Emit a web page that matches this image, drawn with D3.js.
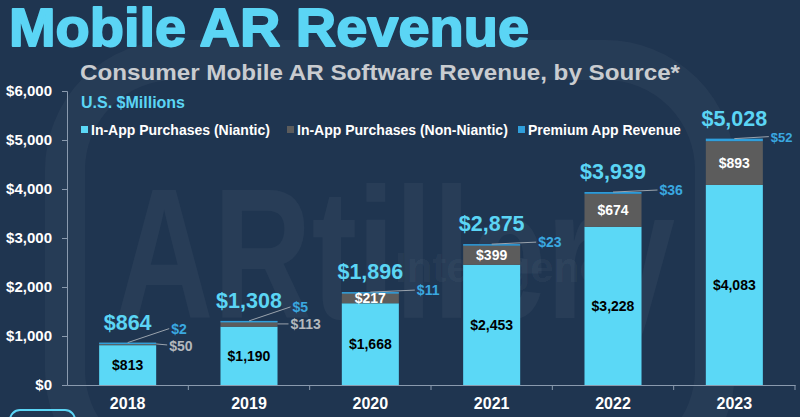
<!DOCTYPE html>
<html><head><meta charset="utf-8">
<script src="https://cdn.jsdelivr.net/npm/d3@7"></script>
<style>
html,body{margin:0;padding:0;background:#1f3550;}
svg{display:block;font-family:"Liberation Sans",Arial,sans-serif;}
</style></head>
<body>
<svg id="chart" width="800" height="417"></svg>
<script>
const years = ["2018","2019","2020","2021","2022","2023"];
const niantic = [813, 1190, 1668, 2453, 3228, 4083];
const nonNiantic = [50, 113, 217, 399, 674, 893];
const premium = [2, 5, 11, 23, 36, 52];
const totals = [864, 1308, 1896, 2875, 3939, 5028];
const yTicks = [0, 1000, 2000, 3000, 4000, 5000, 6000];
const seriesNames = ["In-App Purchases (Niantic)", "In-App Purchases (Non-Niantic)", "Premium App Revenue"];
const seriesColors = ["#5bd8f6", "#5c5c5c", "#2f9fdc"];

const W = 800, H = 417;
const svg = d3.select("#chart");
svg.append("rect").attr("width", W).attr("height", H).attr("fill", "#1f3550");

// watermark
const wm = svg.append("g").attr("fill", "#ffffff").attr("fill-opacity", 0.045);
wm.append("text").attr("x", 115).attr("y", 318).attr("font-size", 185).attr("font-weight", "bold")
  .attr("textLength", 560).attr("lengthAdjust", "spacingAndGlyphs").text("ARtillery");
wm.append("text").attr("x", 395).attr("y", 282).attr("font-size", 42).attr("font-weight", "bold")
  .text("Intelligence");
svg.append("rect").attr("x", 65).attr("y", 60).attr("width", 650).attr("height", 420).attr("rx", 110)
  .attr("fill", "none").attr("stroke", "#ffffff").attr("stroke-opacity", 0.035).attr("stroke-width", 40);

// titles
svg.append("text").attr("x", 9).attr("y", 46).attr("fill", "#5bd5f5").attr("stroke", "#5bd5f5")
  .attr("stroke-width", 1.8).attr("stroke-linejoin", "round").attr("font-size", 53)
  .attr("font-weight", "bold").attr("textLength", 520).attr("lengthAdjust", "spacingAndGlyphs").text("Mobile AR Revenue");
svg.append("text").attr("x", 80).attr("y", 80).attr("fill", "#c9ccd0").attr("font-size", 22)
  .attr("font-weight", "bold").attr("textLength", 600).attr("lengthAdjust", "spacingAndGlyphs").text("Consumer Mobile AR Software Revenue, by Source*");
svg.append("text").attr("x", 81).attr("y", 108).attr("fill", "#5bd5f5").attr("font-size", 16)
  .attr("font-weight", "bold").text("U.S. $Millions");

// legend
const legendX = [81, 287, 518];
seriesNames.forEach((n, i) => {
  const g = svg.append("g").attr("transform", `translate(${legendX[i]},130)`);
  g.append("rect").attr("x", 0).attr("y", -4).attr("width", 7).attr("height", 7).attr("fill", seriesColors[i]);
  g.append("text").attr("x", 10).attr("y", 4.5).attr("fill", "#ffffff").attr("font-size", 14)
    .attr("font-weight", "bold").text(n);
});

// scales
const x = d3.scaleBand().domain(years).range([67, 795]).paddingInner(0.53).paddingOuter(0.265);
const y = d3.scaleLinear().domain([0, 6000]).range([385, 91]);

// y axis
const yAxis = d3.axisLeft(y).tickValues(yTicks).tickFormat(d => "$" + d3.format(",")(d)).tickSize(5).tickPadding(10);
const ya = svg.append("g").attr("transform", "translate(67,0)").call(yAxis);
ya.select(".domain").attr("stroke", "#8a9aae");
ya.selectAll(".tick line").attr("stroke", "#8a9aae");
ya.selectAll(".tick text").attr("fill", "#ffffff").attr("font-size", 15).attr("font-weight", "bold")
  .attr("font-family", "Liberation Sans, Arial, sans-serif");

// x axis
const step = x.step();
const xAxis = d3.axisBottom(x).tickSize(0).tickPadding(13);
const xa = svg.append("g").attr("transform", "translate(0,385)").call(xAxis);
xa.select(".domain").attr("stroke", "#8a9aae");
xa.selectAll(".tick text").attr("fill", "#ffffff").attr("font-size", 16).attr("font-weight", "bold")
  .attr("font-family", "Liberation Sans, Arial, sans-serif");
years.forEach((yr, i) => {
  const tx = 67 + step * (i + 1);
  svg.append("line").attr("x1", tx).attr("x2", tx).attr("y1", 385).attr("y2", 390).attr("stroke", "#8a9aae");
});

// stacked bars
const rows = years.map((yr, i) => ({ year: yr, niantic: niantic[i], nonNiantic: nonNiantic[i], premium: premium[i], total: totals[i] }));
const stack = d3.stack().keys(["niantic", "nonNiantic", "premium"]);
const layers = stack(rows);
svg.append("g").selectAll("g").data(layers).join("g")
  .attr("fill", (d, i) => seriesColors[i])
  .selectAll("rect").data(d => d).join("rect")
  .attr("x", d => x(d.data.year)).attr("width", x.bandwidth())
  .attr("y", d => y(d[1])).attr("height", d => Math.max(1.5, y(d[0]) - y(d[1])));

// labels
const fmt = v => "$" + d3.format(",")(v);
const bw = x.bandwidth();
rows.forEach((r, i) => {
  const cx = x(r.year) + bw / 2;
  const xr = x(r.year) + bw;
  svg.append("text").attr("x", cx).attr("y", y(r.niantic / 2) + 5).attr("text-anchor", "middle")
    .attr("fill", "#000000").attr("font-size", 14).attr("font-weight", "bold").text(fmt(r.niantic));
  const topY = y(r.niantic + r.nonNiantic + r.premium);
  svg.append("text").attr("x", cx).attr("y", topY - 13).attr("text-anchor", "middle")
    .attr("fill", "#5bd5f5").attr("font-size", 21.5).attr("font-weight", "bold").text(fmt(r.total));
  const nnMid = y(r.niantic + r.nonNiantic / 2);
  if (i < 2) {
    const lx = xr + 13;
    svg.append("line").attr("x1", xr).attr("y1", nnMid).attr("x2", lx - 2).attr("y2", nnMid + (i === 0 ? 1 : 0))
      .attr("stroke", "#9aa3ad").attr("stroke-width", 1);
    svg.append("text").attr("x", lx).attr("y", nnMid + 5 + (i === 0 ? 2 : 0)).attr("fill", "#b3b8bd")
      .attr("font-size", 14).attr("font-weight", "bold").text(fmt(r.nonNiantic));
    const px = xr + 15, py = topY - 14;
    svg.append("line").attr("x1", cx).attr("y1", topY).attr("x2", px - 2).attr("y2", py)
      .attr("stroke", "#9aa3ad").attr("stroke-width", 1);
    svg.append("text").attr("x", px).attr("y", py + 5).attr("fill", "#3aa8e0")
      .attr("font-size", 14).attr("font-weight", "bold").text(fmt(r.premium));
  } else {
    svg.append("text").attr("x", cx).attr("y", nnMid + 5).attr("text-anchor", "middle")
      .attr("fill", "#ffffff").attr("font-size", 14).attr("font-weight", "bold").text(fmt(r.nonNiantic));
    const last = i === rows.length - 1;
    const px = xr + (last ? 8 : 18), py = topY - 2;
    svg.append("line").attr("x1", cx).attr("y1", topY).attr("x2", px - 2).attr("y2", py)
      .attr("stroke", "#9aa3ad").attr("stroke-width", 1);
    svg.append("text").attr("x", px).attr("y", py + 5).attr("fill", "#3aa8e0")
      .attr("font-size", last ? 13 : 14).attr("font-weight", "bold").text(fmt(r.premium));
  }
});

// bottom-left decoration
svg.append("rect").attr("x", 10).attr("y", 410).attr("width", 65).attr("height", 20).attr("rx", 10)
  .attr("fill", "none").attr("stroke", "#5bd5f5").attr("stroke-width", 2);
</script>
</body></html>
